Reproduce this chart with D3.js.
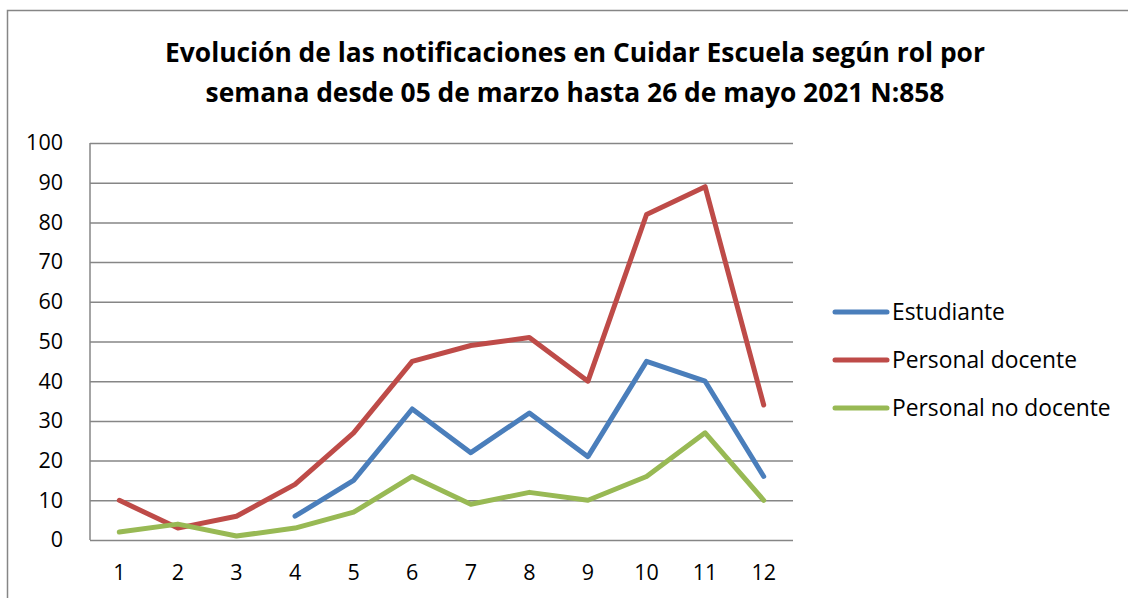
<!DOCTYPE html>
<html><head><meta charset="utf-8">
<script src="https://cdn.jsdelivr.net/npm/d3@7"></script>
<style>body{margin:0;background:#fff}svg{display:block}</style>
</head><body>
<svg id="c" width="1128" height="598"></svg>
<script>
const weeks = ["1","2","3","4","5","6","7","8","9","10","11","12"];
const estudiante = [null,null,null,6,15,33,22,32,21,45,40,16];
const docente = [10,3,6,14,27,45,49,51,40,82,89,34];
const noDocente = [2,4,1,3,7,16,9,12,10,16,27,10];
const seriesNames = ["Estudiante","Personal docente","Personal no docente"];
const yTicks = [0,10,20,30,40,50,60,70,80,90,100];
const titleLines = ["Evolución de las notificaciones en Cuidar Escuela según rol por","semana desde 05 de marzo hasta 26 de mayo 2021 N:858"];

const colors = ["#4A7EBB","#BE4B48","#98B954"];
const series = [estudiante, docente, noDocente];
const font = "'Open Sans', 'Noto Sans', sans-serif";

const svg = d3.select("#c");
// outer chart border
svg.append("path").attr("d","M7.5,700 V10.5 H1200").attr("fill","none").attr("stroke","#868686").attr("stroke-width",1.5);

const m = {left:90, right:793, top:143, bottom:540};
const x = d3.scaleBand().domain(weeks).range([m.left, m.right]);
const y = d3.scaleLinear().domain([0,100]).range([m.bottom, m.top]);

// title
const t = svg.append("g").attr("font-family", font).attr("font-weight","bold").attr("fill","#000").attr("text-anchor","middle");
titleLines.forEach((s,i)=>{
  t.append("text").attr("x",575).attr("y",62+i*40).attr("font-size",25).text(s);
});
{
  const first = t.select("text").node();
  const w = first.getComputedTextLength();
  const fs = 25*820/w;
  t.selectAll("text").attr("font-size", fs);
}

// grid
const gy = svg.append("g").attr("transform",`translate(${m.left},0)`)
  .call(d3.axisLeft(y).tickValues(yTicks).tickSize(-(m.right-m.left)).tickFormat(""));
gy.select(".domain").remove();
gy.selectAll(".tick line").attr("stroke","#868686").attr("stroke-width",1.5);

// axis line
svg.append("line").attr("x1",m.left).attr("x2",m.left).attr("y1",m.top).attr("y2",m.bottom).attr("stroke","#868686").attr("stroke-width",1.5);

// y labels
const yl = svg.append("g").attr("transform",`translate(${m.left},0)`)
  .call(d3.axisLeft(y).tickValues(yTicks).tickSize(0).tickPadding(27));
yl.select(".domain").remove();
yl.selectAll("text").attr("font-family",font).attr("font-size",21.5).attr("fill","#000");

// x labels
const xl = svg.append("g").attr("transform",`translate(0,${m.bottom})`)
  .call(d3.axisBottom(x).tickSize(0).tickPadding(25));
xl.select(".domain").remove();
xl.selectAll("text").attr("font-family",font).attr("font-size",21.5).attr("fill","#000");

// lines
const line = d3.line().defined(d=>d!=null).x((d,i)=>x(weeks[i])+x.bandwidth()/2).y(d=>y(d));
series.forEach((s,k)=>{
  svg.append("path").datum(s).attr("d",line).attr("fill","none").attr("stroke",colors[k])
    .attr("stroke-width",5).attr("stroke-linejoin","round").attr("stroke-linecap","round");
});

// legend
const lg = svg.append("g");
seriesNames.forEach((n,i)=>{
  const yy = 312 + i*48;
  lg.append("line").attr("x1",835).attr("x2",887).attr("y1",yy).attr("y2",yy).attr("stroke",colors[i]).attr("stroke-width",5).attr("stroke-linecap","round");
  lg.append("text").attr("x",892).attr("y",yy+8).attr("font-family",font).attr("font-size",22.8).attr("fill","#000").text(n);
});
</script>
</body></html>
